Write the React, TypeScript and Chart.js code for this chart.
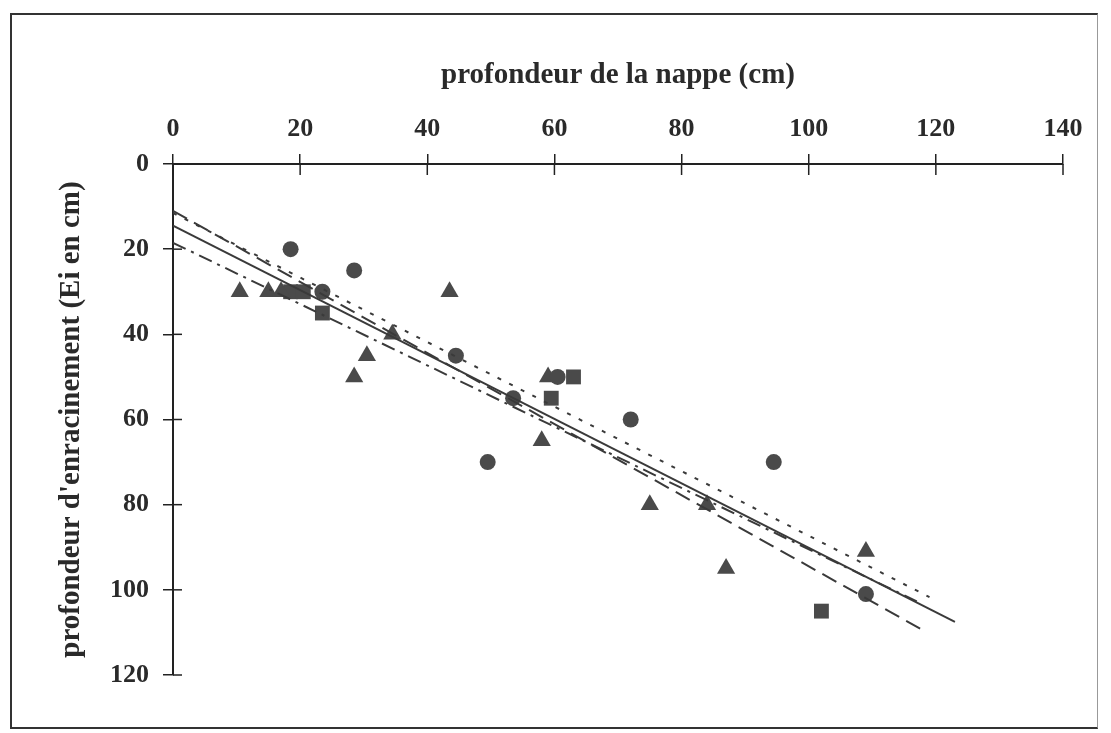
import React, { useEffect, useRef } from "react";
import { Chart, registerables } from "chart.js";

Chart.register(...registerables);

// Axis ticks
const xTickValues = [0, 20, 40, 60, 80, 100, 120, 140];
const yTickValues = [0, 20, 40, 60, 80, 100, 120];

// Observations (x: profondeur de la nappe, y: profondeur d'enracinement)
const circleX = [18.5, 28.5, 23.5, 44.5, 53.5, 49.5, 60.5, 72, 94.5, 109];
const circleY = [20, 25, 30, 45, 55, 70, 50, 60, 70, 101];
const triangleX = [10.5, 15, 17, 43.5, 34.5, 30.5, 28.5, 59, 58, 75, 84, 87, 109];
const triangleY = [30, 30, 30, 30, 40, 45, 50, 50, 65, 80, 80, 95, 91];
const squareX = [18.5, 20.5, 23.5, 59.5, 63, 102];
const squareY = [30, 30, 35, 55, 50, 105];

// Regression lines (end points)
const solidLineX = [0, 123];
const solidLineY = [14.5, 107.5];
const dottedLineX = [0, 119];
const dottedLineY = [11.5, 101.7];
const dashedLineX = [0, 118];
const dashedLineY = [11, 109.5];
const dashDotLineX = [0, 117];
const dashDotLineY = [18.5, 102.7];

const toPoints = (xs: number[], ys: number[]) => xs.map((x, i) => ({ x, y: ys[i] }));

const MARK = "#4a4a4a";
const LINE = "#3a3a3a";
const AXIS = "#222";
const TEXT = "#2a2a2a";
const FONT = "'Liberation Serif', 'Times New Roman', serif";

const crossTicks = {
  id: "crossTicks",
  afterDraw(chart: any) {
    const { ctx, chartArea, scales } = chart;
    const xs = scales.x;
    const ys = scales.y;
    ctx.save();
    ctx.strokeStyle = AXIS;
    ctx.lineWidth = 1.5;
    xs.ticks.forEach((t: any) => {
      const px = xs.getPixelForValue(t.value);
      ctx.beginPath();
      ctx.moveTo(px, chartArea.top);
      ctx.lineTo(px, chartArea.top + 11);
      ctx.stroke();
    });
    ys.ticks.forEach((t: any) => {
      const py = ys.getPixelForValue(t.value);
      ctx.beginPath();
      ctx.moveTo(chartArea.left, py);
      ctx.lineTo(chartArea.left + 9, py);
      ctx.stroke();
    });
    ctx.restore();
  },
};

export default function App() {
  const ref = useRef<HTMLCanvasElement | null>(null);

  useEffect(() => {
    document.body.style.margin = "0";
    const canvas = ref.current;
    if (!canvas) return;

    const lineDs = (xs: number[], ys: number[], dash: number[]) => ({
      type: "line" as const,
      data: toPoints(xs, ys),
      showLine: true,
      borderColor: LINE,
      borderWidth: 2,
      borderDash: dash,
      pointRadius: 0,
      fill: false,
      tension: 0,
    });

    const tickFont = { family: FONT, weight: "bold" as const, size: 26 };
    const titleFont = { family: FONT, weight: "bold" as const, size: 29 };

    const chart = new Chart(canvas, {
      type: "scatter",
      data: {
        datasets: [
          lineDs(solidLineX, solidLineY, []),
          lineDs(dottedLineX, dottedLineY, [4, 9]),
          lineDs(dashedLineX, dashedLineY, [16, 8]),
          lineDs(dashDotLineX, dashDotLineY, [14, 6, 3, 6]),
          {
            data: toPoints(circleX, circleY),
            pointStyle: "circle",
            pointRadius: 8,
            backgroundColor: MARK,
            borderColor: MARK,
            borderWidth: 0,
          },
          {
            data: toPoints(triangleX, triangleY),
            pointStyle: "triangle",
            pointRadius: 10.5,
            backgroundColor: MARK,
            borderColor: MARK,
            borderWidth: 0,
          },
          {
            data: toPoints(squareX, squareY),
            pointStyle: "rect",
            pointRadius: 10.5,
            backgroundColor: MARK,
            borderColor: MARK,
            borderWidth: 0,
          },
        ] as any,
      },
      options: {
        animation: false,
        responsive: true,
        maintainAspectRatio: false,
        layout: { padding: { left: 0, top: 0, right: 48, bottom: 58 } },
        plugins: {
          legend: { display: false },
          tooltip: { enabled: false },
        },
        scales: {
          x: {
            type: "linear",
            position: "top",
            min: 0,
            max: 140,
            afterBuildTicks: (s: any) => {
              s.ticks = xTickValues.map((v) => ({ value: v }));
            },
            ticks: {
              color: TEXT,
              font: tickFont,
              padding: 9,
              maxRotation: 0,
              autoSkip: false,
            },
            grid: {
              drawOnChartArea: false,
              drawTicks: true,
              tickLength: 10,
              color: AXIS,
              lineWidth: 1.5,
            },
            border: { display: true, color: AXIS, width: 2 },
            title: {
              display: true,
              text: "profondeur de la nappe (cm)",
              color: TEXT,
              font: titleFont,
              padding: { top: 58, bottom: 0 },
            },
            afterFit: (s: any) => {
              s.height = 164;
            },
          },
          y: {
            type: "linear",
            reverse: true,
            min: 0,
            max: 120,
            afterBuildTicks: (s: any) => {
              s.ticks = yTickValues.map((v) => ({ value: v }));
            },
            ticks: {
              color: TEXT,
              font: tickFont,
              padding: 14,
              autoSkip: false,
            },
            grid: {
              drawOnChartArea: false,
              drawTicks: true,
              tickLength: 10,
              color: AXIS,
              lineWidth: 1.5,
            },
            border: { display: true, color: AXIS, width: 2 },
            title: {
              display: true,
              text: "profondeur d'enracinement (Ei en cm)",
              color: TEXT,
              font: titleFont,
              padding: { top: 54, bottom: 0 },
            },
            afterFit: (s: any) => {
              s.width = 173;
            },
          },
        },
      } as any,
      plugins: [crossTicks],
    });

    return () => chart.destroy();
  }, []);

  return (
    <div style={{ position: "relative", width: 1111, height: 733, background: "#fff" }}>
      <div
        style={{
          position: "absolute",
          left: 10,
          top: 13,
          width: 1098 - 10,
          height: 729 - 13,
          borderTop: "2px solid #333",
          borderLeft: "2px solid #333",
          borderBottom: "2px solid #333",
          borderRight: "1px solid #999",
          boxSizing: "border-box",
          pointerEvents: "none",
        }}
      />
      <canvas ref={ref} style={{ position: "absolute", left: 0, top: 0 }} />
    </div>
  );
}
